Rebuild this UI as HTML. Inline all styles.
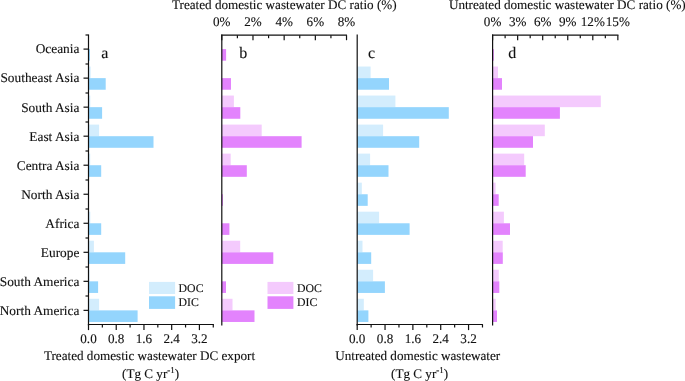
<!DOCTYPE html>
<html><head><meta charset="utf-8"><style>
html,body{margin:0;padding:0;background:#fff;width:685px;height:381px;overflow:hidden}
svg{display:block;will-change:transform}
text{font-family:"Liberation Serif",serif;fill:#111;stroke:#111;stroke-width:0.12px;text-rendering:geometricPrecision}
</style></head><body>
<svg width="685" height="381" viewBox="0 0 685 381">
<rect width="685" height="381" fill="#fff"/>
<rect x="88.50" y="49.10" width="1.50" height="11.60" fill="#94d5fd"/>
<rect x="88.50" y="66.53" width="2.10" height="11.60" fill="#d3edfd"/>
<rect x="88.50" y="78.13" width="17.20" height="11.60" fill="#94d5fd"/>
<rect x="88.50" y="95.56" width="1.80" height="11.60" fill="#d3edfd"/>
<rect x="88.50" y="107.16" width="13.60" height="11.60" fill="#94d5fd"/>
<rect x="88.50" y="124.59" width="10.60" height="11.60" fill="#d3edfd"/>
<rect x="88.50" y="136.19" width="65.00" height="11.60" fill="#94d5fd"/>
<rect x="88.50" y="153.62" width="1.70" height="11.60" fill="#d3edfd"/>
<rect x="88.50" y="165.22" width="12.70" height="11.60" fill="#94d5fd"/>
<rect x="88.50" y="211.68" width="1.80" height="11.60" fill="#d3edfd"/>
<rect x="88.50" y="223.28" width="12.70" height="11.60" fill="#94d5fd"/>
<rect x="88.50" y="240.71" width="5.40" height="11.60" fill="#d3edfd"/>
<rect x="88.50" y="252.31" width="36.70" height="11.60" fill="#94d5fd"/>
<rect x="88.50" y="269.74" width="1.00" height="11.60" fill="#d3edfd"/>
<rect x="88.50" y="281.34" width="9.60" height="11.60" fill="#94d5fd"/>
<rect x="88.50" y="298.77" width="10.60" height="11.60" fill="#d3edfd"/>
<rect x="88.50" y="310.37" width="49.10" height="11.60" fill="#94d5fd"/>
<rect x="221.80" y="49.10" width="4.30" height="11.60" fill="#e383fd"/>
<rect x="221.80" y="78.13" width="9.20" height="11.60" fill="#e383fd"/>
<rect x="221.80" y="95.56" width="12.10" height="11.60" fill="#f4cafd"/>
<rect x="221.80" y="107.16" width="18.50" height="11.60" fill="#e383fd"/>
<rect x="221.80" y="124.59" width="39.90" height="11.60" fill="#f4cafd"/>
<rect x="221.80" y="136.19" width="79.80" height="11.60" fill="#e383fd"/>
<rect x="221.80" y="153.62" width="8.90" height="11.60" fill="#f4cafd"/>
<rect x="221.80" y="165.22" width="25.00" height="11.60" fill="#e383fd"/>
<rect x="221.80" y="194.25" width="1.10" height="11.60" fill="#e383fd"/>
<rect x="221.80" y="223.28" width="7.60" height="11.60" fill="#e383fd"/>
<rect x="221.80" y="240.71" width="18.40" height="11.60" fill="#f4cafd"/>
<rect x="221.80" y="252.31" width="51.50" height="11.60" fill="#e383fd"/>
<rect x="221.80" y="281.34" width="4.20" height="11.60" fill="#e383fd"/>
<rect x="221.80" y="298.77" width="10.70" height="11.60" fill="#f4cafd"/>
<rect x="221.80" y="310.37" width="32.70" height="11.60" fill="#e383fd"/>
<rect x="357.20" y="66.53" width="13.40" height="11.60" fill="#d3edfd"/>
<rect x="357.20" y="78.13" width="31.80" height="11.60" fill="#94d5fd"/>
<rect x="357.20" y="95.56" width="38.20" height="11.60" fill="#d3edfd"/>
<rect x="357.20" y="107.16" width="91.60" height="11.60" fill="#94d5fd"/>
<rect x="357.20" y="124.59" width="25.90" height="11.60" fill="#d3edfd"/>
<rect x="357.20" y="136.19" width="62.00" height="11.60" fill="#94d5fd"/>
<rect x="357.20" y="153.62" width="12.90" height="11.60" fill="#d3edfd"/>
<rect x="357.20" y="165.22" width="31.30" height="11.60" fill="#94d5fd"/>
<rect x="357.20" y="182.65" width="4.60" height="11.60" fill="#d3edfd"/>
<rect x="357.20" y="194.25" width="10.50" height="11.60" fill="#94d5fd"/>
<rect x="357.20" y="211.68" width="21.90" height="11.60" fill="#d3edfd"/>
<rect x="357.20" y="223.28" width="52.40" height="11.60" fill="#94d5fd"/>
<rect x="357.20" y="240.71" width="5.30" height="11.60" fill="#d3edfd"/>
<rect x="357.20" y="252.31" width="14.00" height="11.60" fill="#94d5fd"/>
<rect x="357.20" y="269.74" width="15.90" height="11.60" fill="#d3edfd"/>
<rect x="357.20" y="281.34" width="27.70" height="11.60" fill="#94d5fd"/>
<rect x="357.20" y="298.77" width="6.60" height="11.60" fill="#d3edfd"/>
<rect x="357.20" y="310.37" width="11.20" height="11.60" fill="#94d5fd"/>
<rect x="492.60" y="49.10" width="1.20" height="11.60" fill="#e383fd"/>
<rect x="492.60" y="66.53" width="5.40" height="11.60" fill="#f4cafd"/>
<rect x="492.60" y="78.13" width="9.40" height="11.60" fill="#e383fd"/>
<rect x="492.60" y="95.56" width="108.20" height="11.60" fill="#f4cafd"/>
<rect x="492.60" y="107.16" width="67.30" height="11.60" fill="#e383fd"/>
<rect x="492.60" y="124.59" width="52.20" height="11.60" fill="#f4cafd"/>
<rect x="492.60" y="136.19" width="40.40" height="11.60" fill="#e383fd"/>
<rect x="492.60" y="153.62" width="31.60" height="11.60" fill="#f4cafd"/>
<rect x="492.60" y="165.22" width="33.10" height="11.60" fill="#e383fd"/>
<rect x="492.60" y="182.65" width="3.00" height="11.60" fill="#f4cafd"/>
<rect x="492.60" y="194.25" width="6.10" height="11.60" fill="#e383fd"/>
<rect x="492.60" y="211.68" width="11.30" height="11.60" fill="#f4cafd"/>
<rect x="492.60" y="223.28" width="17.40" height="11.60" fill="#e383fd"/>
<rect x="492.60" y="240.71" width="10.10" height="11.60" fill="#f4cafd"/>
<rect x="492.60" y="252.31" width="10.20" height="11.60" fill="#e383fd"/>
<rect x="492.60" y="269.74" width="6.20" height="11.60" fill="#f4cafd"/>
<rect x="492.60" y="281.34" width="6.70" height="11.60" fill="#e383fd"/>
<rect x="492.60" y="298.77" width="3.10" height="11.60" fill="#f4cafd"/>
<rect x="492.60" y="310.37" width="4.40" height="11.60" fill="#e383fd"/>
<line x1="88.50" y1="34.40" x2="88.50" y2="325.60" stroke="#111" stroke-width="1.2"/>
<line x1="85.50" y1="35.00" x2="88.50" y2="35.00" stroke="#111" stroke-width="1.2"/>
<line x1="85.50" y1="64.00" x2="88.50" y2="64.00" stroke="#111" stroke-width="1.2"/>
<line x1="85.50" y1="93.00" x2="88.50" y2="93.00" stroke="#111" stroke-width="1.2"/>
<line x1="85.50" y1="122.00" x2="88.50" y2="122.00" stroke="#111" stroke-width="1.2"/>
<line x1="85.50" y1="151.00" x2="88.50" y2="151.00" stroke="#111" stroke-width="1.2"/>
<line x1="85.50" y1="180.00" x2="88.50" y2="180.00" stroke="#111" stroke-width="1.2"/>
<line x1="85.50" y1="209.00" x2="88.50" y2="209.00" stroke="#111" stroke-width="1.2"/>
<line x1="85.50" y1="238.00" x2="88.50" y2="238.00" stroke="#111" stroke-width="1.2"/>
<line x1="85.50" y1="267.00" x2="88.50" y2="267.00" stroke="#111" stroke-width="1.2"/>
<line x1="85.50" y1="296.00" x2="88.50" y2="296.00" stroke="#111" stroke-width="1.2"/>
<line x1="83.50" y1="49.10" x2="88.50" y2="49.10" stroke="#111" stroke-width="1.2"/>
<line x1="83.50" y1="78.13" x2="88.50" y2="78.13" stroke="#111" stroke-width="1.2"/>
<line x1="83.50" y1="107.16" x2="88.50" y2="107.16" stroke="#111" stroke-width="1.2"/>
<line x1="83.50" y1="136.19" x2="88.50" y2="136.19" stroke="#111" stroke-width="1.2"/>
<line x1="83.50" y1="165.22" x2="88.50" y2="165.22" stroke="#111" stroke-width="1.2"/>
<line x1="83.50" y1="194.25" x2="88.50" y2="194.25" stroke="#111" stroke-width="1.2"/>
<line x1="83.50" y1="223.28" x2="88.50" y2="223.28" stroke="#111" stroke-width="1.2"/>
<line x1="83.50" y1="252.31" x2="88.50" y2="252.31" stroke="#111" stroke-width="1.2"/>
<line x1="83.50" y1="281.34" x2="88.50" y2="281.34" stroke="#111" stroke-width="1.2"/>
<line x1="83.50" y1="310.37" x2="88.50" y2="310.37" stroke="#111" stroke-width="1.2"/>
<line x1="87.90" y1="324.50" x2="213.90" y2="324.50" stroke="#111" stroke-width="1.2"/>
<line x1="88.50" y1="324.50" x2="88.50" y2="330.10" stroke="#111" stroke-width="1.2"/>
<line x1="102.36" y1="324.50" x2="102.36" y2="327.50" stroke="#111" stroke-width="1.2"/>
<line x1="116.23" y1="324.50" x2="116.23" y2="330.10" stroke="#111" stroke-width="1.2"/>
<line x1="130.09" y1="324.50" x2="130.09" y2="327.50" stroke="#111" stroke-width="1.2"/>
<line x1="143.96" y1="324.50" x2="143.96" y2="330.10" stroke="#111" stroke-width="1.2"/>
<line x1="157.82" y1="324.50" x2="157.82" y2="327.50" stroke="#111" stroke-width="1.2"/>
<line x1="171.68" y1="324.50" x2="171.68" y2="330.10" stroke="#111" stroke-width="1.2"/>
<line x1="185.55" y1="324.50" x2="185.55" y2="327.50" stroke="#111" stroke-width="1.2"/>
<line x1="199.41" y1="324.50" x2="199.41" y2="330.10" stroke="#111" stroke-width="1.2"/>
<line x1="213.28" y1="324.50" x2="213.28" y2="327.50" stroke="#111" stroke-width="1.2"/>
<text x="88.50" y="343.20" font-size="13.15" text-anchor="middle" >0.0</text>
<text x="116.23" y="343.20" font-size="13.15" text-anchor="middle" >0.8</text>
<text x="143.96" y="343.20" font-size="13.15" text-anchor="middle" >1.6</text>
<text x="171.68" y="343.20" font-size="13.15" text-anchor="middle" >2.4</text>
<text x="199.41" y="343.20" font-size="13.15" text-anchor="middle" >3.2</text>
<line x1="357.20" y1="34.40" x2="357.20" y2="325.60" stroke="#111" stroke-width="1.2"/>
<line x1="356.60" y1="324.50" x2="482.90" y2="324.50" stroke="#111" stroke-width="1.2"/>
<line x1="357.20" y1="324.50" x2="357.20" y2="330.10" stroke="#111" stroke-width="1.2"/>
<line x1="371.12" y1="324.50" x2="371.12" y2="327.50" stroke="#111" stroke-width="1.2"/>
<line x1="385.04" y1="324.50" x2="385.04" y2="330.10" stroke="#111" stroke-width="1.2"/>
<line x1="398.96" y1="324.50" x2="398.96" y2="327.50" stroke="#111" stroke-width="1.2"/>
<line x1="412.88" y1="324.50" x2="412.88" y2="330.10" stroke="#111" stroke-width="1.2"/>
<line x1="426.80" y1="324.50" x2="426.80" y2="327.50" stroke="#111" stroke-width="1.2"/>
<line x1="440.72" y1="324.50" x2="440.72" y2="330.10" stroke="#111" stroke-width="1.2"/>
<line x1="454.64" y1="324.50" x2="454.64" y2="327.50" stroke="#111" stroke-width="1.2"/>
<line x1="468.56" y1="324.50" x2="468.56" y2="330.10" stroke="#111" stroke-width="1.2"/>
<line x1="482.48" y1="324.50" x2="482.48" y2="327.50" stroke="#111" stroke-width="1.2"/>
<text x="357.20" y="343.20" font-size="13.15" text-anchor="middle" >0.0</text>
<text x="385.04" y="343.20" font-size="13.15" text-anchor="middle" >0.8</text>
<text x="412.88" y="343.20" font-size="13.15" text-anchor="middle" >1.6</text>
<text x="440.72" y="343.20" font-size="13.15" text-anchor="middle" >2.4</text>
<text x="468.56" y="343.20" font-size="13.15" text-anchor="middle" >3.2</text>
<line x1="221.80" y1="34.60" x2="221.80" y2="325.60" stroke="#111" stroke-width="1.2"/>
<line x1="221.20" y1="35.20" x2="346.95" y2="35.20" stroke="#111" stroke-width="1.2"/>
<line x1="221.80" y1="35.20" x2="221.80" y2="40.20" stroke="#111" stroke-width="1.2"/>
<line x1="237.39" y1="35.20" x2="237.39" y2="38.20" stroke="#111" stroke-width="1.2"/>
<line x1="252.98" y1="35.20" x2="252.98" y2="40.20" stroke="#111" stroke-width="1.2"/>
<line x1="268.57" y1="35.20" x2="268.57" y2="38.20" stroke="#111" stroke-width="1.2"/>
<line x1="284.16" y1="35.20" x2="284.16" y2="40.20" stroke="#111" stroke-width="1.2"/>
<line x1="299.75" y1="35.20" x2="299.75" y2="38.20" stroke="#111" stroke-width="1.2"/>
<line x1="315.34" y1="35.20" x2="315.34" y2="40.20" stroke="#111" stroke-width="1.2"/>
<line x1="330.93" y1="35.20" x2="330.93" y2="38.20" stroke="#111" stroke-width="1.2"/>
<line x1="346.52" y1="35.20" x2="346.52" y2="40.20" stroke="#111" stroke-width="1.2"/>
<text x="221.80" y="25.90" font-size="13.15" text-anchor="middle" >0%</text>
<text x="252.98" y="25.90" font-size="13.15" text-anchor="middle" >2%</text>
<text x="284.16" y="25.90" font-size="13.15" text-anchor="middle" >4%</text>
<text x="315.34" y="25.90" font-size="13.15" text-anchor="middle" >6%</text>
<text x="346.52" y="25.90" font-size="13.15" text-anchor="middle" >8%</text>
<line x1="492.60" y1="34.60" x2="492.60" y2="325.60" stroke="#111" stroke-width="1.2"/>
<line x1="492.00" y1="35.20" x2="618.45" y2="35.20" stroke="#111" stroke-width="1.2"/>
<line x1="492.60" y1="35.20" x2="492.60" y2="40.20" stroke="#111" stroke-width="1.2"/>
<line x1="505.12" y1="35.20" x2="505.12" y2="38.20" stroke="#111" stroke-width="1.2"/>
<line x1="517.65" y1="35.20" x2="517.65" y2="40.20" stroke="#111" stroke-width="1.2"/>
<line x1="530.18" y1="35.20" x2="530.18" y2="38.20" stroke="#111" stroke-width="1.2"/>
<line x1="542.70" y1="35.20" x2="542.70" y2="40.20" stroke="#111" stroke-width="1.2"/>
<line x1="555.23" y1="35.20" x2="555.23" y2="38.20" stroke="#111" stroke-width="1.2"/>
<line x1="567.75" y1="35.20" x2="567.75" y2="40.20" stroke="#111" stroke-width="1.2"/>
<line x1="580.27" y1="35.20" x2="580.27" y2="38.20" stroke="#111" stroke-width="1.2"/>
<line x1="592.80" y1="35.20" x2="592.80" y2="40.20" stroke="#111" stroke-width="1.2"/>
<line x1="605.33" y1="35.20" x2="605.33" y2="38.20" stroke="#111" stroke-width="1.2"/>
<line x1="617.85" y1="35.20" x2="617.85" y2="40.20" stroke="#111" stroke-width="1.2"/>
<text x="492.60" y="25.90" font-size="13.15" text-anchor="middle" >0%</text>
<text x="517.65" y="25.90" font-size="13.15" text-anchor="middle" >3%</text>
<text x="542.70" y="25.90" font-size="13.15" text-anchor="middle" >6%</text>
<text x="567.75" y="25.90" font-size="13.15" text-anchor="middle" >9%</text>
<text x="592.80" y="25.90" font-size="13.15" text-anchor="middle" >12%</text>
<text x="617.85" y="25.90" font-size="13.15" text-anchor="middle" >15%</text>
<text x="79.40" y="53.45" font-size="13.35" text-anchor="end" >Oceania</text>
<text x="79.40" y="82.48" font-size="13.35" text-anchor="end" >Southeast Asia</text>
<text x="79.40" y="111.51" font-size="13.35" text-anchor="end" >South Asia</text>
<text x="79.40" y="140.54" font-size="13.35" text-anchor="end" >East Asia</text>
<text x="79.40" y="169.57" font-size="13.35" text-anchor="end" >Centra Asia</text>
<text x="79.40" y="198.60" font-size="13.35" text-anchor="end" >North Asia</text>
<text x="79.40" y="227.63" font-size="13.35" text-anchor="end" >Africa</text>
<text x="79.40" y="256.66" font-size="13.35" text-anchor="end" >Europe</text>
<text x="79.40" y="285.69" font-size="13.35" text-anchor="end" >South America</text>
<text x="79.40" y="314.72" font-size="13.35" text-anchor="end" >North America</text>
<text x="101.30" y="57.50" font-size="16" text-anchor="start" >a</text>
<text x="239.20" y="57.50" font-size="16" text-anchor="start" >b</text>
<text x="368.00" y="57.50" font-size="16" text-anchor="start" >c</text>
<text x="508.30" y="57.50" font-size="16" text-anchor="start" >d</text>
<text x="284.30" y="9.40" font-size="13.15" text-anchor="middle" >Treated domestic wastewater DC ratio (%)</text>
<text x="567.30" y="9.40" font-size="13.15" text-anchor="middle" >Untreated domestic wastewater DC ratio (%)</text>
<text x="149.50" y="359.60" font-size="13.15" text-anchor="middle" >Treated domestic wastewater DC export</text>
<text x="417.70" y="359.60" font-size="13.15" text-anchor="middle" >Untreated domestic wastewater</text>
<text x="150.60" y="378.00" font-size="13.15" text-anchor="middle" >(Tg C yr<tspan font-size="9" dy="-5.2" style="stroke-width:0.3px">-</tspan><tspan font-size="9">1</tspan><tspan dy="5.2">)</tspan></text>
<text x="419.60" y="378.00" font-size="13.15" text-anchor="middle" >(Tg C yr<tspan font-size="9" dy="-5.2" style="stroke-width:0.3px">-</tspan><tspan font-size="9">1</tspan><tspan dy="5.2">)</tspan></text>
<rect x="149.00" y="281.90" width="26.10" height="12.10" fill="#d3edfd"/>
<rect x="149.00" y="296.30" width="26.10" height="12.60" fill="#94d5fd"/>
<text x="178.60" y="292.00" font-size="11.8" text-anchor="start" >DOC</text>
<text x="178.60" y="306.40" font-size="11.8" text-anchor="start" >DIC</text>
<rect x="267.50" y="281.90" width="25.90" height="12.10" fill="#f4cafd"/>
<rect x="267.50" y="296.30" width="25.90" height="12.60" fill="#e383fd"/>
<text x="297.00" y="292.00" font-size="11.8" text-anchor="start" >DOC</text>
<text x="297.00" y="306.40" font-size="11.8" text-anchor="start" >DIC</text>
</svg>
</body></html>
